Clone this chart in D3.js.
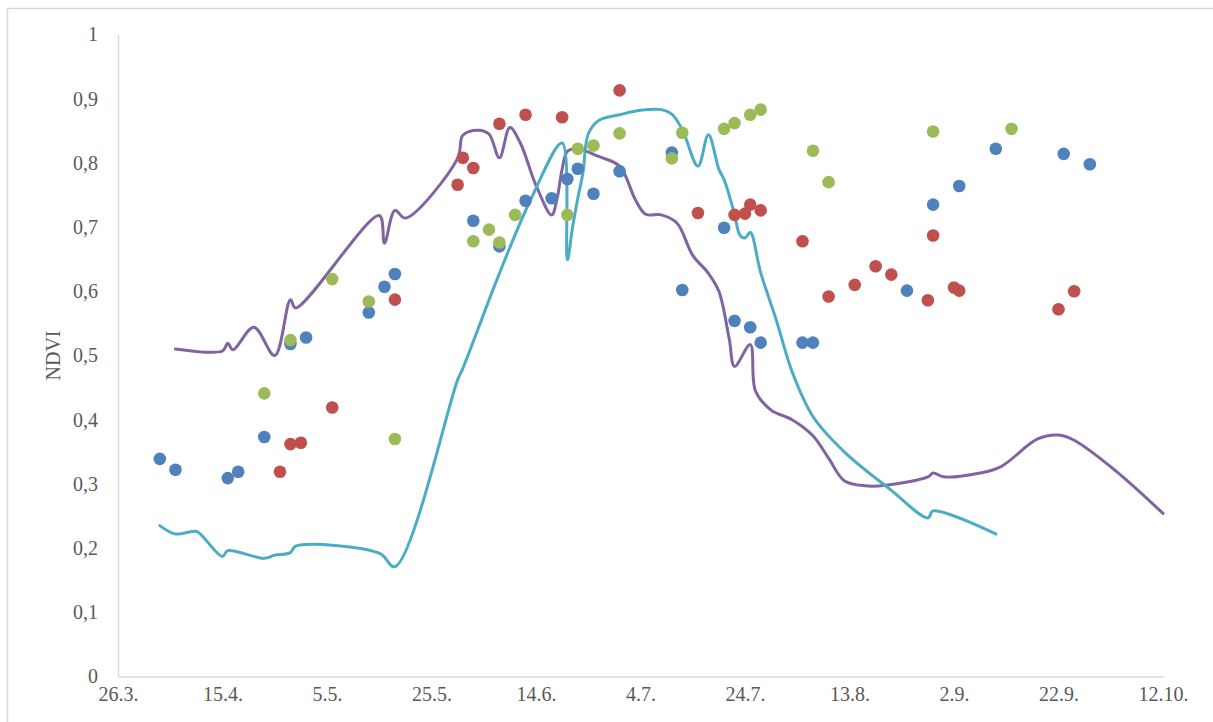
<!DOCTYPE html>
<html>
<head>
<meta charset="utf-8">
<script src="https://cdn.jsdelivr.net/npm/d3@7"></script>
<style>
  body { margin: 0; background: #fff; }
</style>
</head>
<body>
<svg id="chart"></svg>
<script>
// dates are d.m. (year does not matter, chart runs 26.3. - 12.10.)
const YEAR = "2015";

const xTickLabels = ["26.3.", "15.4.", "5.5.", "25.5.", "14.6.", "4.7.", "24.7.", "13.8.", "2.9.", "22.9.", "12.10."];
const yTickValues = [0, 0.1, 0.2, 0.3, 0.4, 0.5, 0.6, 0.7, 0.8, 0.9, 1];

const blueDates = ["3.4.", "6.4.", "16.4.", "18.4.", "23.4.", "28.4.", "1.5.", "13.5.", "16.5.", "18.5.",
    "2.6.", "7.6.", "12.6.", "17.6.", "20.6.", "22.6.", "25.6.", "30.6.", "10.7.", "12.7.",
    "20.7.", "22.7.", "25.7.", "27.7.", "4.8.", "6.8.", "24.8.", "29.8.", "3.9.", "10.9.", "23.9.", "28.9."];
const blueNdvi = [0.339, 0.322, 0.309, 0.319, 0.373, 0.518, 0.528, 0.567, 0.607, 0.627,
    0.71, 0.67, 0.741, 0.745, 0.775, 0.791, 0.752, 0.787, 0.816, 0.602,
    0.699, 0.554, 0.544, 0.52, 0.52, 0.52, 0.601, 0.735, 0.764, 0.822, 0.814, 0.798];

const redDates = ["26.4.", "28.4.", "30.4.", "6.5.", "18.5.", "30.5.", "31.5.", "2.6.", "7.6.", "12.6.",
    "19.6.", "30.6.", "15.7.", "22.7.", "24.7.", "25.7.", "27.7.", "4.8.", "9.8.", "14.8.",
    "18.8.", "21.8.", "28.8.", "29.8.", "2.9.", "3.9.", "22.9.", "25.9."];
const redNdvi = [0.319, 0.362, 0.364, 0.419, 0.587, 0.766, 0.808, 0.792, 0.861, 0.875,
    0.871, 0.913, 0.722, 0.719, 0.721, 0.735, 0.726, 0.678, 0.592, 0.61,
    0.639, 0.626, 0.586, 0.687, 0.606, 0.601, 0.572, 0.600];

const greenDates = ["23.4.", "28.4.", "6.5.", "13.5.", "18.5.", "2.6.", "5.6.", "7.6.", "10.6.", "20.6.",
    "22.6.", "25.6.", "30.6.", "10.7.", "12.7.", "20.7.", "22.7.", "25.7.", "27.7.", "6.8.",
    "9.8.", "29.8.", "13.9."];
const greenNdvi = [0.441, 0.524, 0.619, 0.584, 0.370, 0.678, 0.696, 0.676, 0.719, 0.719,
    0.822, 0.827, 0.846, 0.807, 0.847, 0.853, 0.862, 0.875, 0.883, 0.819,
    0.770, 0.849, 0.853];

const purpleDates = ["6.4.", "15.4.", "16.4.", "17.4.", "21.4.", "25.4.", "28.4.", "29.4.", "15.5.", "16.5.",
    "18.5.", "20.5.", "30.5.", "31.5.", "3.6.", "5.6.", "7.6.", "9.6.", "11.6.", "14.6.",
    "17.6.", "18.6.", "19.6.", "20.6.", "22.6.", "26.6.", "30.6.", "3.7.", "5.7.", "8.7.",
    "11.7.", "14.7.", "17.7.", "19.7.", "21.7.", "22.7.", "25.7.", "26.7.", "29.7.", "2.8.",
    "6.8.", "9.8.", "12.8.", "16.8.", "20.8.", "28.8.", "29.8.", "31.8.", "7.9.", "11.9.",
    "18.9.", "22.9.", "25.9.", "3.10.", "12.10."];
const purpleNdvi = [0.510, 0.507, 0.519, 0.509, 0.544, 0.500, 0.587, 0.574, 0.718, 0.675,
    0.726, 0.714, 0.807, 0.843, 0.851, 0.845, 0.808, 0.855, 0.831, 0.765,
    0.719, 0.743, 0.79, 0.818, 0.822, 0.81, 0.795, 0.743, 0.72, 0.719,
    0.706, 0.656, 0.628, 0.60, 0.525, 0.483, 0.517, 0.445, 0.415, 0.40,
    0.375, 0.34, 0.305, 0.297, 0.298, 0.311, 0.317, 0.311, 0.317, 0.327,
    0.37, 0.376, 0.368, 0.32, 0.254];

const tealDates = ["3.4.", "6.4.", "10.4.", "11.4.", "15.4.", "16.4.", "23.4.", "25.4.", "28.4.", "29.4.",
    "15.5.", "18.5.", "30.5.", "31.5.", "7.6.", "13.6.", "19.6.", "20.6.",
    "21.6.", "22.6.", "23.6.", "24.6.", "26.6.", "30.6.", "4.7.", "8.7.", "10.7.", "12.7.",
    "15.7.", "17.7.", "19.7.", "20.7.", "22.7.", "23.7.", "24.7.", "25.7.", "27.7.", "30.7.",
    "2.8.", "6.8.", "12.8.", "21.8.", "28.8.", "29.8.", "10.9."];
const tealNdvi = [0.235, 0.222, 0.226, 0.220, 0.187, 0.196, 0.184, 0.189, 0.193, 0.203,
    0.192, 0.171, 0.462, 0.48, 0.628, 0.743, 0.831, 0.649,
    0.70, 0.745, 0.785, 0.845, 0.866, 0.875, 0.882, 0.883, 0.876, 0.852,
    0.795, 0.844, 0.79, 0.774, 0.72, 0.688, 0.683, 0.692, 0.629, 0.555,
    0.475, 0.405, 0.35, 0.29, 0.247, 0.258, 0.222];

const parseDay = d3.timeParse("%d.%m.%Y");
const toDate = s => parseDay(s + YEAR);
const zip = (dates, values) => dates.map((d, i) => ({ date: toDate(d), value: values[i] }));

class NdviChart {
    margin = { top: 34.5, right: 50, bottom: 45.5, left: 118 };

    constructor(svg, width = 1213, height = 722) {
        this.svg = d3.select(svg);
        this.width = width;
        this.height = height;
    }

    initialize() {
        this.svg.attr("width", this.width).attr("height", this.height);

        // light frame around the chart area
        this.svg.append("rect")
            .attr("x", 7.5).attr("y", 8.5)
            .attr("width", this.width + 20).attr("height", this.height + 20)
            .attr("fill", "none")
            .attr("stroke", "#d9d9d9")
            .attr("stroke-width", 1.5);

        this.xScale = d3.scaleTime()
            .domain([toDate(xTickLabels[0]), toDate(xTickLabels[xTickLabels.length - 1])])
            .range([this.margin.left, this.width - this.margin.right]);

        this.yScale = d3.scaleLinear()
            .domain([0, 1])
            .range([this.height - this.margin.bottom, this.margin.top]);

        this.xAxis = this.svg.append("g")
            .attr("transform", `translate(0, ${this.height - this.margin.bottom})`);
        this.yAxis = this.svg.append("g")
            .attr("transform", `translate(${this.margin.left}, 0)`);
        this.lines = this.svg.append("g");
        this.dots = this.svg.append("g");
    }

    styleAxis(g) {
        g.attr("font-family", "'Liberation Serif', serif").attr("font-size", 20);
        g.select(".domain").attr("stroke", "#d9d9d9").attr("stroke-width", 1.5);
        g.selectAll("text").attr("fill", "#595959");
    }

    update() {
        this.xAxis.call(d3.axisBottom(this.xScale)
            .tickValues(xTickLabels.map(toDate))
            .tickFormat((d, i) => xTickLabels[i])
            .tickSize(0).tickSizeOuter(0).tickPadding(10));
        this.styleAxis(this.xAxis);

        this.yAxis.call(d3.axisLeft(this.yScale)
            .tickValues(yTickValues)
            .tickFormat(d => String(d).replace(".", ","))
            .tickSize(0).tickSizeOuter(0).tickPadding(20));
        this.styleAxis(this.yAxis);

        this.svg.append("text")
            .attr("transform", `translate(53, ${this.yScale(0.5)}) rotate(-90)`)
            .attr("text-anchor", "middle")
            .attr("dominant-baseline", "central")
            .attr("font-family", "'Liberation Serif', serif")
            .attr("font-size", 20)
            .attr("fill", "#595959")
            .text("NDVI");

        const line = d3.line()
            .x(d => this.xScale(d.date))
            .y(d => this.yScale(d.value))
            .curve(d3.curveCatmullRom.alpha(0.5));

        const series = [
            { data: zip(purpleDates, purpleNdvi), color: "#8064A2" },
            { data: zip(tealDates, tealNdvi), color: "#4BACC6" }
        ];
        this.lines.selectAll("path")
            .data(series)
            .join("path")
            .attr("d", d => line(d.data))
            .attr("fill", "none")
            .attr("stroke", d => d.color)
            .attr("stroke-width", 3)
            .attr("stroke-linejoin", "round")
            .attr("stroke-linecap", "round");

        const points = [
            { data: zip(blueDates, blueNdvi), color: "#4F81BD" },
            { data: zip(redDates, redNdvi), color: "#C0504D" },
            { data: zip(greenDates, greenNdvi), color: "#9BBB59" }
        ];
        this.dots.selectAll("g")
            .data(points)
            .join("g")
            .attr("fill", d => d.color)
            .selectAll("circle")
            .data(d => d.data)
            .join("circle")
            .attr("cx", d => this.xScale(d.date))
            .attr("cy", d => this.yScale(d.value))
            .attr("r", 6.3);
    }
}

const chart = new NdviChart("#chart");
chart.initialize();
chart.update();
</script>
</body>
</html>
